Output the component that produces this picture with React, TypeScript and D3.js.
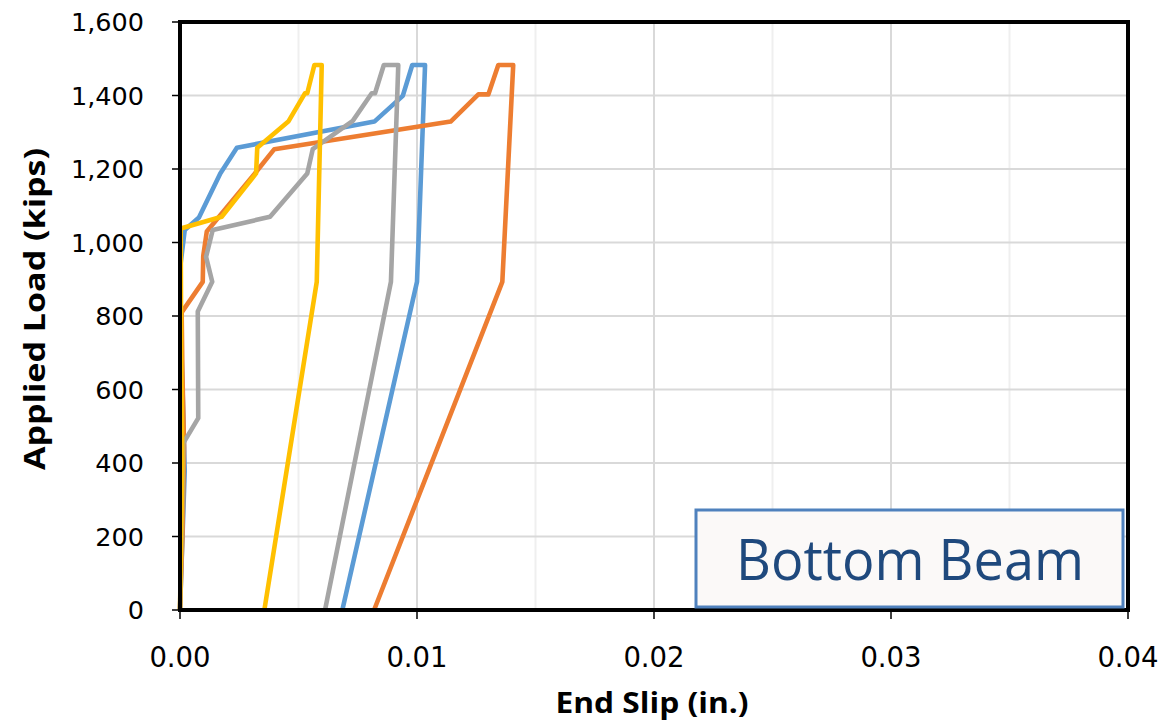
import React from "react";
import * as d3 from "d3";

type Pt = [number, number];

const seriesNames = ["Blue", "Orange", "Gray", "Yellow"];
const seriesColors = ["#5B9BD5", "#ED7D31", "#A5A5A5", "#FFC000"];

const blueSeries: Pt[] = [
  [0, 0], [0.0002, 380], [0.0001, 620], [0.00002, 800], [0.00003, 944], [0.0002, 1034],
  [0.0008, 1068], [0.0017, 1188], [0.0024, 1258], [0.0082, 1329], [0.0094, 1399],
  [0.0098, 1483], [0.01034, 1483], [0.01, 893], [0.00685, 0],
];
const orangeSeries: Pt[] = [
  [0, 0], [0.0001, 200], [0.00017, 444], [0.0001, 650], [0.00007, 810], [0.00096, 893],
  [0.00098, 963], [0.00113, 1030], [0.00316, 1188], [0.00398, 1254], [0.01142, 1329],
  [0.01259, 1403], [0.01301, 1403], [0.01343, 1483], [0.01406, 1483], [0.0136, 893], [0.00819, 0],
];
const graySeries: Pt[] = [
  [0, 0], [0.0001, 300], [0.00014, 454], [0.00077, 522], [0.00075, 812], [0.00136, 893],
  [0.0011, 961], [0.00138, 1034], [0.0038, 1070], [0.00537, 1188], [0.0056, 1254],
  [0.00729, 1331], [0.00809, 1406], [0.00823, 1406], [0.0086, 1483], [0.00921, 1483],
  [0.0089, 893], [0.00612, 0],
];
const yellowSeries: Pt[] = [
  [0, 0], [0.0001, 400], [0.00005, 700], [0.00003, 1038], [0.00176, 1070], [0.00321, 1188],
  [0.00326, 1258], [0.00457, 1329], [0.00527, 1406], [0.00537, 1406], [0.00567, 1483],
  [0.00598, 1483], [0.00577, 893], [0.00356, 0],
];
const allSeries = [blueSeries, orangeSeries, graySeries, yellowSeries];

const xTicks = [0, 0.01, 0.02, 0.03, 0.04];
const xMinorTicks = [0.005, 0.015, 0.025, 0.035];
const yTicks = [0, 200, 400, 600, 800, 1000, 1200, 1400, 1600];

const xTitle = "End Slip (in.)";
const yTitle = "Applied Load (kips)";
const boxLabel = "Bottom Beam";

export default function App() {
  const W = 1163, H = 725;
  const L = 180, R = 1128, T = 22, B = 610;
  const x = d3.scaleLinear().domain([0, 0.04]).range([L, R]);
  const y = d3.scaleLinear().domain([0, 1600]).range([B, T]);
  const line = d3.line<Pt>().x((d) => x(d[0])).y((d) => y(d[1]));
  const yFmt = d3.format(",");
  const xFmt = d3.format(".2f");

  return (
    <svg width={W} height={H} style={{ position: "absolute", left: 0, top: 0, background: "#fff" }}>
      <rect x={0} y={0} width={W} height={H} fill="#fff" />
      {xMinorTicks.map((t) => (
        <line key={"mx" + t} x1={x(t)} x2={x(t)} y1={T} y2={B} stroke="#efefef" strokeWidth={2} />
      ))}
      {xTicks.map((t) => (
        <line key={"gx" + t} x1={x(t)} x2={x(t)} y1={T} y2={B} stroke="#d9d9d9" strokeWidth={2} />
      ))}
      {yTicks.map((t) => (
        <line key={"gy" + t} x1={L} x2={R} y1={y(t)} y2={y(t)} stroke="#d9d9d9" strokeWidth={2} />
      ))}
      {allSeries.map((s, i) => (
        <path
          key={seriesNames[i]}
          d={line(s) || ""}
          fill="none"
          stroke={seriesColors[i]}
          strokeWidth={4.6}
          strokeLinejoin="round"
        />
      ))}
      <rect x={L} y={T} width={R - L} height={B - T} fill="none" stroke="#000" strokeWidth={4} />
      {yTicks.map((t) => (
        <g key={"yt" + t}>
          <line x1={L - 8} x2={L} y1={y(t)} y2={y(t)} stroke="#000" strokeWidth={1.5} />
          <text
            x={144}
            y={y(t)}
            dy="0.36em"
            textAnchor="end"
            fontFamily="DejaVu Sans"
            fontSize={25.5}
            fill="#000"
          >
            {yFmt(t)}
          </text>
        </g>
      ))}
      {xTicks.map((t) => (
        <g key={"xt" + t}>
          <line x1={x(t)} x2={x(t)} y1={B} y2={B + 9} stroke="#000" strokeWidth={1.5} />
          <text x={x(t)} y={667} textAnchor="middle" fontFamily="DejaVu Sans" fontSize={27.5} fill="#000">
            {xFmt(t)}
          </text>
        </g>
      ))}
      <text
        x={652}
        y={713}
        textAnchor="middle"
        fontFamily="Open Sans"
        fontWeight="bold"
        fontSize={28}
        textLength={193}
        lengthAdjust="spacingAndGlyphs"
        fill="#000"
      >
        {xTitle}
      </text>
      <text
        transform={`translate(45,309) rotate(-90)`}
        textAnchor="middle"
        fontFamily="Open Sans"
        fontWeight="bold"
        fontSize={28}
        textLength={322}
        lengthAdjust="spacingAndGlyphs"
        fill="#000"
      >
        {yTitle}
      </text>
      <rect x={696} y={510} width={427} height={97} fill="#FBF9F8" stroke="#4F81BD" strokeWidth={3} />
      <text
        x={910}
        y={580}
        textAnchor="middle"
        fontFamily="Open Sans"
        fontSize={57}
        textLength={348}
        lengthAdjust="spacingAndGlyphs"
        fill="#1F497D"
      >
        {boxLabel}
      </text>
    </svg>
  );
}
